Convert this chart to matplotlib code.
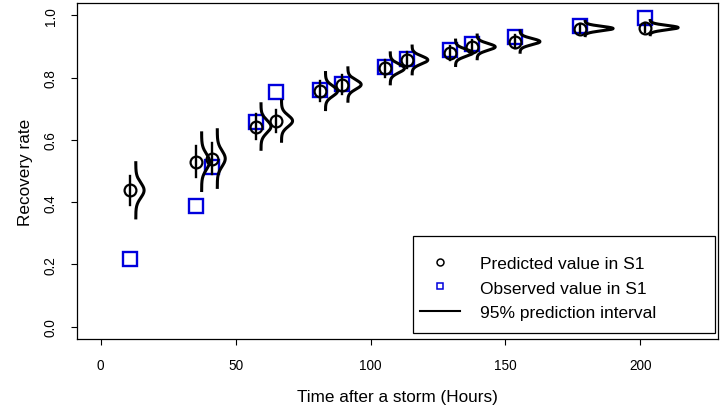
import numpy as np
import matplotlib
matplotlib.use('Agg')
import matplotlib.pyplot as plt
from matplotlib.lines import Line2D
from matplotlib.patches import Rectangle

plt.rcParams['font.family'] = ['Liberation Sans', 'DejaVu Sans']

# hours after the storm, predicted / observed recovery and prediction sd
hours = [11.0, 35.4, 41.2, 57.4, 65.0, 81.3, 89.6, 105.3, 113.4, 129.5, 137.5, 153.4, 177.5, 201.6]
predicted = [0.438, 0.530, 0.540, 0.643, 0.661, 0.757, 0.778, 0.830, 0.857, 0.880, 0.899, 0.916, 0.958, 0.961]
observed = [0.217, 0.389, 0.514, 0.659, 0.753, 0.762, 0.781, 0.834, 0.861, 0.888, 0.907, 0.932, 0.967, 0.991]
pred_sd = [0.024, 0.025, 0.025, 0.020, 0.018, 0.0165, 0.015, 0.014, 0.0127, 0.0117, 0.011, 0.010, 0.0071, 0.0071]

x_ticks = [0, 50, 100, 150, 200]
y_ticks = [0.0, 0.2, 0.4, 0.6, 0.8, 1.0]

dens_scale = 0.185   # width of density curves (x units per unit density)
dens_shift = 2.0     # gap between point and its density curve

fig = plt.figure(figsize=(7.22, 4.10), dpi=100)
ax = fig.add_axes([0.1066, 0.1707, 0.888, 0.8195])

ax.plot(hours, observed, 's', ms=10, mfc='none', mec='#0000dd', mew=1.7, zorder=2)
ax.plot(hours, predicted, 'o', ms=8.5, mfc='none', mec='black', mew=1.6, zorder=3)

for h, m, sd in zip(hours, predicted, pred_sd):
    # 95% interval through the point
    ax.plot([h, h], [m - 1.96 * sd, m + 1.96 * sd], color='black', lw=1.7, zorder=3)
    # predictive density drawn sideways to the right
    yy = np.linspace(m - 3.9 * sd, m + 3.9 * sd, 200)
    dens = np.exp(-0.5 * ((yy - m) / sd) ** 2) / (sd * np.sqrt(2 * np.pi))
    ax.plot(h + dens_shift + dens_scale * dens, yy, color='black', lw=2.2,
            solid_capstyle='butt', zorder=3)

ax.set_xlim(-8.8, 228.8)
ax.set_ylim(-0.04, 1.04)
ax.set_xticks(x_ticks)
ax.set_xticklabels([str(t) for t in x_ticks])
ax.set_yticks(y_ticks)
ax.set_yticklabels(['%.1f' % t for t in y_ticks], rotation=90, va='center')
ax.tick_params(axis='both', direction='out', length=4.5, width=0.8, labelsize=9.8)
ax.tick_params(axis='x', pad=9)
ax.tick_params(axis='y', pad=9.5)
for sp in ax.spines.values():
    sp.set_linewidth(0.9)

ax.set_xlabel('Time after a storm (Hours)', fontsize=12.3, va='center')
ax.xaxis.set_label_coords(0.5, -0.170)
ax.set_ylabel('Recovery rate', fontsize=12.3, va='center')
ax.yaxis.set_label_coords(-0.081, 0.5)

# legend box
ax.add_patch(Rectangle((0.524, 0.018), 0.471, 0.289, transform=ax.transAxes,
                       facecolor='white', edgecolor='black', lw=0.9, zorder=5))
handles = [
    Line2D([], [], ls='none', marker='o', ms=5, mfc='none', mec='black', mew=1.1),
    Line2D([], [], ls='none', marker='s', ms=5, mfc='none', mec='#0000dd', mew=1.1),
    Line2D([], [], color='black', lw=1.5),
]
labels = ['Predicted value in S1', 'Observed value in S1', '95% prediction interval']
leg = ax.legend(handles, labels, loc='upper left', bbox_to_anchor=(0.535, 0.247),
                fontsize=12.5, handlelength=2.3, handletextpad=1.15,
                labelspacing=0.53, borderpad=0, borderaxespad=0, frameon=False)
leg.set_zorder(6)

fig.savefig('out.png', dpi=100)
